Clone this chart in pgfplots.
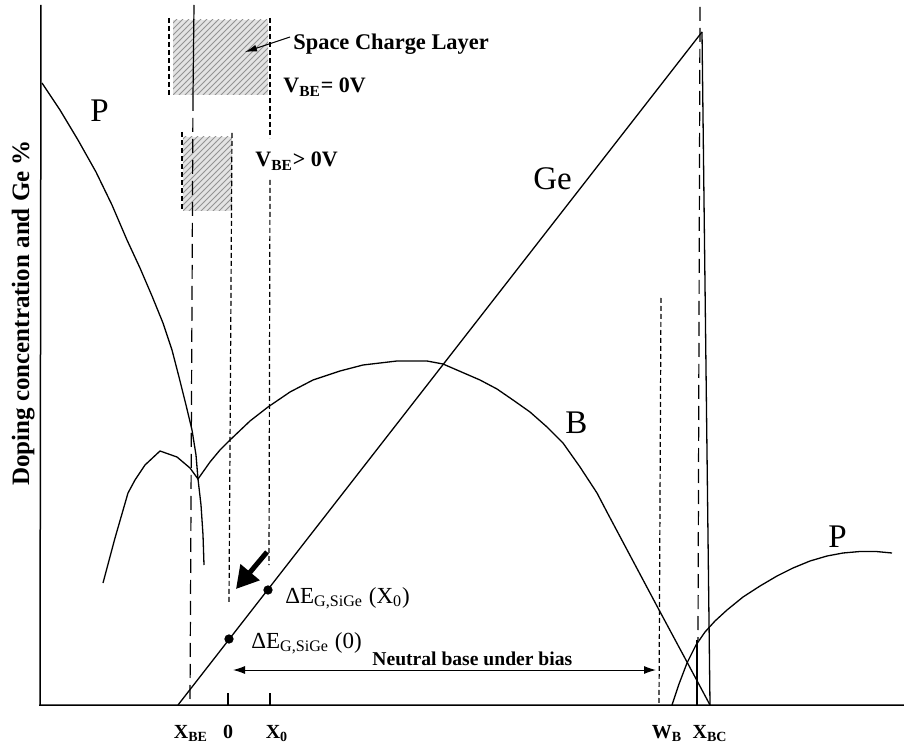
\documentclass[border=0pt]{standalone}
\usepackage{fontspec}
\setmainfont{Liberation Serif}
\usepackage{pgfplots}
\pgfplotsset{compat=1.18}
\usetikzlibrary{arrows.meta,patterns}
\pgfplotstableread{
x y
42 83
60 110
78 140
96 172
112 205
127 240
140 268
152 296
163 323
172 350
179 377
186 405
192 430
196 455
198 479
201 505
203 535
204 565
}\Pleft
\pgfplotstableread{
x y
103 583
115 538
128 493
135 480
145 465
160 451
177 457
190 468
198 479
210 462
220 450
230 440
250 421
268 407
290 392
313 380
340 371
363 365
397 361
427 361
443 364
480 380
497 389
513 400
530 412
547 427
563 443
580 467
597 493
608 514
658 608
687 662
710 705
}\Bcurve
\pgfplotstableread{
x y
672 705
679 684
687 663
696 645
705 632
715 621
727 610
743 597
760 586
777 576
793 568
810 561
827 556
843 553
860 551.5
876 551.5
892 553
}\Pright
\begin{document}
\begin{tikzpicture}
\begin{axis}[
  width=432pt, height=350pt, scale only axis,
  xmin=40, xmax=904, ymin=5, ymax=705, y dir=reverse,
  hide axis, clip=false,
]
% hatched space charge boxes
\addplot[draw=none, fill=gray!22] coordinates {(173,20) (268,20) (268,95) (173,95)} -- cycle;
\addplot[draw=none, pattern=north east lines, pattern color=gray!85] coordinates {(173,20) (268,20) (268,95) (173,95)} -- cycle;
\addplot[draw=none, fill=gray!22] coordinates {(183,137) (232,137) (232,211) (183,211)} -- cycle;
\addplot[draw=none, pattern=north east lines, pattern color=gray!85] coordinates {(183,137) (232,137) (232,211) (183,211)} -- cycle;
% frame
\addplot[black, line width=0.75pt] coordinates {(41,5) (40,705) (904,705)};
% short dashed lines
\addplot[black, line width=0.6pt, dash pattern=on 2.4pt off 1.6pt] coordinates {(169,18) (169,95)};
\addplot[black, line width=0.6pt, dash pattern=on 2.4pt off 1.6pt] coordinates {(270,18) (270,138)};
\addplot[black, line width=0.6pt, dash pattern=on 2.4pt off 1.6pt] coordinates {(270,180) (269,565)};
\addplot[black, line width=0.6pt, dash pattern=on 2.4pt off 1.6pt] coordinates {(182,132) (182,210)};
\addplot[black, line width=0.6pt, dash pattern=on 2.4pt off 1.6pt] coordinates {(232,133) (229,603)};
\addplot[black, line width=0.6pt, dash pattern=on 2.4pt off 1.6pt] coordinates {(661,298) (659,705)};
% long dashed lines
\addplot[black, line width=0.6pt] coordinates {(194,5) (193,97)};
\addplot[black, line width=0.6pt, dash pattern=on 7pt off 3.5pt] coordinates {(193,97) (190,705)};
\addplot[black, line width=0.6pt, dash pattern=on 7pt off 3.5pt] coordinates {(700,7) (698,640)};
\addplot[black, line width=0.6pt] coordinates {(697,640) (697,705)};
% ticks
\addplot[black, line width=0.6pt] coordinates {(228,693) (228,705)};
\addplot[black, line width=0.6pt] coordinates {(270,693) (270,705)};
% curves
\addplot[black, line width=0.65pt] table {\Pleft};
\addplot[black, line width=0.65pt] table {\Bcurve};
\addplot[black, line width=0.65pt] table {\Pright};
% Ge line
\addplot[black, line width=0.65pt] coordinates {(178,705) (702,32)};
% collector edge
\addplot[black, line width=0.65pt] coordinates {(702,32) (710,705)};
% dots
\addplot[only marks, mark=*, mark size=2.1pt, black] coordinates {(229,639) (268,590)};
% arrows
\draw[black, line width=0.5pt, -{Latex[length=6pt,width=3.5pt]}] (axis cs:290,37) -- (axis cs:245,52);
\draw[black, line width=2.5pt, -{Triangle[length=11pt,width=12pt]}] (axis cs:267,552) -- (axis cs:236,589);
\draw[black, line width=0.5pt, {Latex[length=6pt,width=4pt]}-{Latex[length=6pt,width=4pt]}] (axis cs:233,670) -- (axis cs:656,670);
% texts
\node[anchor=base west, font=\fontsize{11.2}{13}\selectfont\bfseries, inner sep=0pt] at (axis cs:293,50) {Space Charge Layer};
\node[anchor=base west, font=\fontsize{11}{13}\selectfont\bfseries, inner sep=0pt] at (axis cs:283,93) {V\textsubscript{BE}= 0V};
\node[anchor=base west, font=\fontsize{11}{13}\selectfont\bfseries, inner sep=0pt] at (axis cs:255,167) {V\textsubscript{BE}> 0V};
\node[anchor=base west, font=\fontsize{16.5}{18}\selectfont, inner sep=0pt] at (axis cs:90,122) {P};
\node[anchor=base west, font=\fontsize{16.5}{18}\selectfont, inner sep=0pt] at (axis cs:533,190) {Ge};
\node[anchor=base west, font=\fontsize{16.5}{18}\selectfont, inner sep=0pt] at (axis cs:565,433) {B};
\node[anchor=base west, font=\fontsize{16.5}{18}\selectfont, inner sep=0pt] at (axis cs:828,547) {P};
\node[anchor=base west, font=\fontsize{11.5}{14}\selectfont, inner sep=0pt] at (axis cs:285,603) {ΔE\textsubscript{G,SiGe} (X\textsubscript{0})};
\node[anchor=base west, font=\fontsize{11.5}{14}\selectfont, inner sep=0pt] at (axis cs:251,648) {ΔE\textsubscript{G,SiGe} (0)};
\node[anchor=base west, font=\fontsize{9.8}{12}\selectfont\bfseries, inner sep=0pt] at (axis cs:372,665) {Neutral base under bias};
\node[rotate=90, anchor=base, font=\fontsize{12.5}{14}\selectfont\bfseries, inner sep=0pt] at (axis cs:29,313) {Doping concentration and Ge \%};
% tick labels
\node[anchor=base, font=\fontsize{10}{12}\selectfont\bfseries, inner sep=0pt] at (axis cs:191,738) {X\textsubscript{BE}};
\node[anchor=base, font=\fontsize{10}{12}\selectfont\bfseries, inner sep=0pt] at (axis cs:228,738) {0};
\node[anchor=base, font=\fontsize{10}{12}\selectfont\bfseries, inner sep=0pt] at (axis cs:277,738) {X\textsubscript{0}};
\node[anchor=base, font=\fontsize{10}{12}\selectfont\bfseries, inner sep=0pt] at (axis cs:667,738) {W\textsubscript{B}};
\node[anchor=base, font=\fontsize{10}{12}\selectfont\bfseries, inner sep=0pt] at (axis cs:710,738) {X\textsubscript{BC}};
\coordinate (BL) at (axis cs:0,748);
\coordinate (TR) at (axis cs:904,0);
\end{axis}
\pgfresetboundingbox
\useasboundingbox (BL) rectangle (TR);
\end{tikzpicture}
\end{document}
